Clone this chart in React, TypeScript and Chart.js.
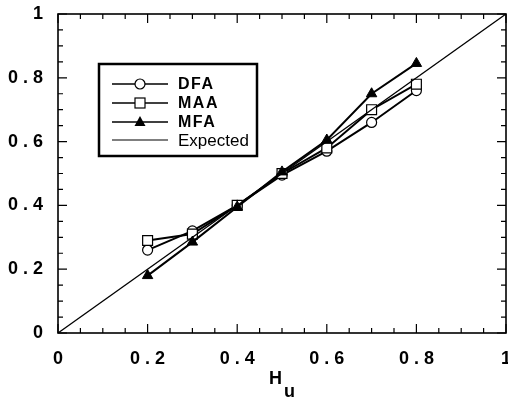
import React, { useEffect, useRef } from "react";
import { Chart, registerables } from "chart.js";

Chart.register(...registerables);

const hValues = [0.2, 0.3, 0.4, 0.5, 0.6, 0.7, 0.8];
const dfaValues = [0.26, 0.32, 0.4, 0.495, 0.57, 0.66, 0.76];
const maaValues = [0.29, 0.31, 0.4, 0.5, 0.58, 0.7, 0.78];
const mfaValues = [0.18, 0.285, 0.395, 0.505, 0.605, 0.75, 0.845];
const expectedX = [0, 1];
const expectedY = [0, 1];
const xTickLabels = ["0", "0 . 2", "0 . 4", "0 . 6", "0 . 8", "1"];
const yTickLabels = ["0 ", "0 . 2 ", "0 . 4 ", "0 . 6 ", "0 . 8 ", "1 "];
const seriesNames = ["DFA", "MAA", "MFA", "Expected"];

const FONT = '"Liberation Sans", Arial, sans-serif';

const pts = (xs: number[], ys: number[]) => xs.map((x, i) => ({ x, y: ys[i] }));

const framePlugin = {
  id: "frame",
  afterDraw(chart: any) {
    const ctx = chart.ctx;
    const { left, right, top, bottom } = chart.chartArea;
    const xs = chart.scales.x;
    const ys = chart.scales.y;
    ctx.save();
    ctx.strokeStyle = "#000";
    ctx.lineWidth = 1.6;
    ctx.strokeRect(left, top, right - left, bottom - top);

    const majorX = xs.ticks.map((t: any) => t.value);
    const majorY = ys.ticks.map((t: any) => t.value);
    const minors = (arr: number[]) => {
      const out: number[] = [];
      for (let i = 0; i < arr.length - 1; i++) {
        const d = (arr[i + 1] - arr[i]) / 4;
        for (let k = 1; k < 4; k++) out.push(arr[i] + d * k);
      }
      return out;
    };
    ctx.lineWidth = 1.2;
    ctx.beginPath();
    const tickX = (v: number, len: number) => {
      const px = xs.getPixelForValue(v);
      ctx.moveTo(px, bottom);
      ctx.lineTo(px, bottom - len);
      ctx.moveTo(px, top);
      ctx.lineTo(px, top + len);
    };
    const tickY = (v: number, len: number) => {
      const py = ys.getPixelForValue(v);
      ctx.moveTo(left, py);
      ctx.lineTo(left + len, py);
      ctx.moveTo(right, py);
      ctx.lineTo(right - len, py);
    };
    majorX.forEach((v: number) => tickX(v, 9));
    minors(majorX).forEach((v: number) => tickX(v, 5));
    majorY.forEach((v: number) => tickY(v, 9));
    minors(majorY).forEach((v: number) => tickY(v, 5));
    ctx.stroke();

    // tick labels
    ctx.fillStyle = "#000";
    ctx.font = `bold 18px ${FONT}`;
    ctx.textBaseline = "middle";
    ctx.textAlign = "center";
    majorX.forEach((v: number, i: number) => {
      ctx.fillText(xTickLabels[i], xs.getPixelForValue(v), bottom + 26);
    });
    ctx.textAlign = "right";
    majorY.forEach((v: number, i: number) => {
      ctx.fillText(yTickLabels[i], left - 10, ys.getPixelForValue(v));
    });

    // axis title H_u
    ctx.textAlign = "left";
    ctx.textBaseline = "alphabetic";
    ctx.font = `bold 18px ${FONT}`;
    ctx.fillText("H", 269, 384);
    ctx.fillText("u", 284, 397);

    // legend
    const bx = 99, by = 64, bw = 158, bh = 92;
    ctx.fillStyle = "#fff";
    ctx.fillRect(bx, by, bw, bh);
    ctx.lineWidth = 2.5;
    ctx.strokeRect(bx, by, bw, bh);
    const rows = [84, 103, 122, 140];
    const styles = ["circle", "rect", "triangle", "none"];
    rows.forEach((ry, i) => {
      ctx.strokeStyle = "#000";
      ctx.lineWidth = i === 3 ? 1.2 : 1.6;
      ctx.beginPath();
      ctx.moveTo(112, ry);
      ctx.lineTo(168, ry);
      ctx.stroke();
      ctx.lineWidth = 1.2;
      if (styles[i] === "circle") {
        ctx.beginPath();
        ctx.arc(140, ry, 5, 0, Math.PI * 2);
        ctx.fillStyle = "#fff";
        ctx.fill();
        ctx.stroke();
      } else if (styles[i] === "rect") {
        ctx.fillStyle = "#fff";
        ctx.fillRect(135, ry - 5, 10, 10);
        ctx.strokeRect(135, ry - 5, 10, 10);
      } else if (styles[i] === "triangle") {
        ctx.beginPath();
        ctx.moveTo(140, ry - 6);
        ctx.lineTo(145.5, ry + 4);
        ctx.lineTo(134.5, ry + 4);
        ctx.closePath();
        ctx.fillStyle = "#000";
        ctx.fill();
      }
      ctx.fillStyle = "#000";
      ctx.textBaseline = "middle";
      ctx.textAlign = "left";
      if (i < 3) {
        ctx.font = `bold 16px ${FONT}`;
        (ctx as any).letterSpacing = "1.5px";
      } else {
        ctx.font = `17px ${FONT}`;
        (ctx as any).letterSpacing = "0px";
      }
      ctx.fillText(seriesNames[i], 178, ry + 1);
    });
    (ctx as any).letterSpacing = "0px";
    ctx.restore();
  },
};

export default function App() {
  const ref = useRef<HTMLCanvasElement | null>(null);
  useEffect(() => {
    if (!ref.current) return;
    const chart = new Chart(ref.current, {
      type: "scatter",
      data: {
        datasets: [
          {
            label: seriesNames[3],
            data: pts(expectedX, expectedY),
            showLine: true,
            borderColor: "#000",
            borderWidth: 1.3,
            pointRadius: 0,
          },
          {
            label: seriesNames[2],
            data: pts(hValues, mfaValues),
            showLine: true,
            borderColor: "#000",
            borderWidth: 2,
            pointStyle: "triangle",
            pointRadius: 6,
            pointBackgroundColor: "#000",
            pointBorderColor: "#000",
            pointBorderWidth: 1,
          },
          {
            label: seriesNames[1],
            data: pts(hValues, maaValues),
            showLine: true,
            borderColor: "#000",
            borderWidth: 2,
            pointStyle: "rect",
            pointRadius: 7,
            pointBackgroundColor: "#fff",
            pointBorderColor: "#000",
            pointBorderWidth: 1.2,
          },
          {
            label: seriesNames[0],
            data: pts(hValues, dfaValues),
            showLine: true,
            borderColor: "#000",
            borderWidth: 2,
            pointStyle: "circle",
            pointRadius: 5,
            pointBackgroundColor: "#fff",
            pointBorderColor: "#000",
            pointBorderWidth: 1.2,
          },
        ],
      },
      options: {
        animation: false,
        responsive: false,
        maintainAspectRatio: false,
        layout: { autoPadding: false, padding: { top: 14, right: 2, left: 0, bottom: 0 } },
        plugins: { legend: { display: false }, tooltip: { enabled: false } },
        scales: {
          x: {
            type: "linear",
            min: 0,
            max: 1,
            ticks: { stepSize: 0.2, display: false },
            grid: { display: false },
            border: { display: false },
            afterFit: (s: any) => {
              s.height = 68;
            },
          },
          y: {
            type: "linear",
            min: 0,
            max: 1,
            ticks: { stepSize: 0.2, display: false },
            grid: { display: false },
            border: { display: false },
            afterFit: (s: any) => {
              s.width = 58;
            },
          },
        },
      },
      plugins: [framePlugin],
    });
    return () => chart.destroy();
  }, []);
  return (
    <div style={{ position: "absolute", left: 0, top: 0, width: 508, height: 401, background: "#fff" }}>
      <canvas ref={ref} width={508} height={401} style={{ display: "block", width: 508, height: 401 }} />
    </div>
  );
}
